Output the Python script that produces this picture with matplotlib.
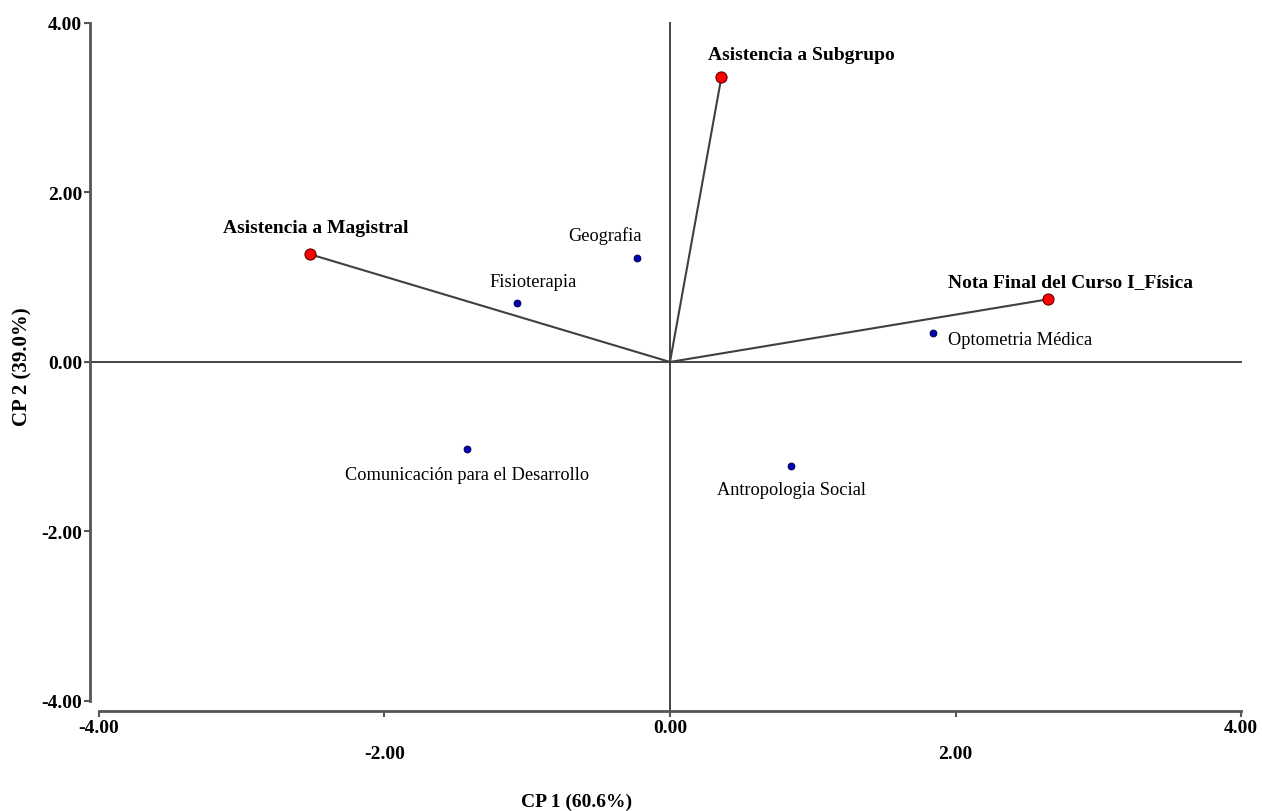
import matplotlib
matplotlib.use('Agg')
import matplotlib.pyplot as plt

plt.rcParams['font.family'] = ['Liberation Serif', 'DejaVu Serif']

# variables (vectores)
variables = ['Asistencia a Magistral', 'Asistencia a Subgrupo', 'Nota Final del Curso I_Física']
var_x = [-2.52, 0.36, 2.65]
var_y = [1.27, 3.36, 0.74]

# carreras (observaciones)
carreras = ['Geografia', 'Fisioterapia', 'Optometria Médica',
            'Comunicación para el Desarrollo', 'Antropologia Social']
car_x = [-0.23, -1.07, 1.84, -1.42, 0.85]
car_y = [1.23, 0.70, 0.34, -1.03, -1.23]

xticks_major = [-4, 0, 4]
xticks_minor = [-2, 2]
yticks = [-4, -2, 0, 2, 4]

# posiciones de las etiquetas (puntos)
var_off = [((4, 19), 'center'), ((-10, 16.5), 'left'), ((16, 13), 'center')]
car_off = [((-23, 16), 'center'), ((11.5, 15), 'center'), ((11, -4.3), 'left'),
           ((0, -18), 'center'), ((0, -16.5), 'center')]

fig = plt.figure(figsize=(12.62, 8.12), dpi=100)
ax = fig.add_axes([0.0784, 0.1355, 0.905, 0.835])
ax.set_xlim(-4, 4)
ax.set_ylim(-4, 4)

spine_col = '#555555'
for s in ['top', 'right']:
    ax.spines[s].set_visible(False)
ax.spines['left'].set_position(('outward', 6.5))
ax.spines['bottom'].set_position(('outward', 7))
for s in ['left', 'bottom']:
    ax.spines[s].set_color(spine_col)
    ax.spines[s].set_linewidth(2)

# ejes de referencia
ax.axvline(0, ymin=-0.015, ymax=1, color='#444444', lw=1.4, clip_on=False, zorder=1)
ax.axhline(0, xmin=-0.008, xmax=1, color='#444444', lw=1.4, clip_on=False, zorder=1)

# vectores
for x, y in zip(var_x, var_y):
    ax.plot([0, x], [0, y], color='#404040', lw=1.5, zorder=2)
ax.plot(var_x, var_y, 'o', ms=8, color='red', mec='#600000', mew=0.8, zorder=3, clip_on=False)
ax.plot(car_x, car_y, 'o', ms=5, color='#0000b0', mec='#000040', mew=0.6, zorder=3)

for name, x, y, (off, ha) in zip(variables, var_x, var_y, var_off):
    ax.annotate(name, (x, y), xytext=off, textcoords='offset points',
                ha=ha, va='center', fontsize=14, fontweight='bold')
for name, x, y, (off, ha) in zip(carreras, car_x, car_y, car_off):
    ax.annotate(name, (x, y), xytext=off, textcoords='offset points',
                ha=ha, va='center', fontsize=13.2)

ax.set_yticks(yticks)
ax.set_yticklabels(['%.2f' % v for v in yticks])
ax.set_xticks(xticks_major)
ax.set_xticklabels(['%.2f' % v for v in xticks_major])
ax.set_xticks(xticks_minor, minor=True)
ax.set_xticklabels(['%.2f' % v for v in xticks_minor], minor=True)
ax.tick_params(axis='both', which='both', length=4, width=1.5, color=spine_col,
               labelsize=14)
ax.tick_params(axis='x', which='major', pad=2)
ax.tick_params(axis='x', which='minor', pad=21)
ax.tick_params(axis='y', pad=1.5)
for lab in ax.get_xticklabels(which='both') + ax.get_yticklabels():
    lab.set_fontweight('bold')

fig.text(577 / 1262, 1 - 802 / 812, 'CP 1 (60.6%)', ha='center', va='center',
         fontsize=14, fontweight='bold')
fig.text(22 / 1262, 1 - 367 / 812, 'CP 2 (39.0%)', ha='center', va='center',
         rotation=90, fontsize=15, fontweight='bold')

fig.savefig('out.png', dpi=100)
